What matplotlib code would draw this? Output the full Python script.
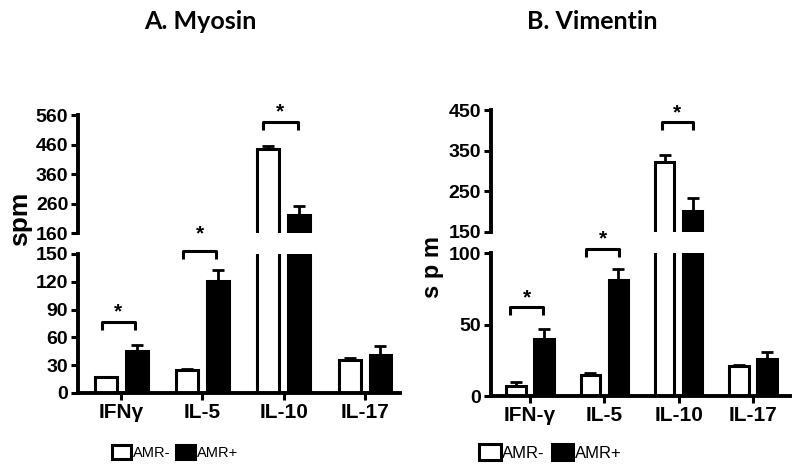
import numpy as np
import matplotlib
matplotlib.use("Agg")
import matplotlib.pyplot as plt
from matplotlib import font_manager

# --- data (spm) ---
cytokines_a = ["IFNγ", "IL-5", "IL-10", "IL-17"]
myo_neg = [17, 25, 445, 36]
myo_neg_err = [0, 1, 10, 2]
myo_pos = [45, 121, 222, 41]
myo_pos_err = [7, 12, 28, 10]

cytokines_b = ["IFN-γ", "IL-5", "IL-10", "IL-17"]
vim_neg = [7, 15, 322, 21]
vim_neg_err = [3, 1, 16, 1]
vim_pos = [40, 81, 202, 26]
vim_pos_err = [7, 8, 30, 5]

# font choices
names = {f.name for f in font_manager.fontManager.ttflist}
narrow = "Liberation Sans Narrow" if "Liberation Sans Narrow" in names else "Liberation Sans"
plt.rcParams["font.family"] = ["Liberation Sans", "DejaVu Sans"]

fig = plt.figure(figsize=(8, 4.76), dpi=100)

LW = 2.8


def style_axis(ax, bottom):
    ax.patch.set_visible(False)
    for s in ["top", "right"]:
        ax.spines[s].set_visible(False)
    ax.spines["left"].set_linewidth(LW)
    if bottom:
        ax.spines["bottom"].set_linewidth(LW)
    else:
        ax.spines["bottom"].set_visible(False)
        ax.tick_params(axis="x", bottom=False, labelbottom=False)
    ax.tick_params(axis="both", direction="out", length=5, width=2.2, pad=2)
    for lab in ax.get_yticklabels():
        lab.set_fontfamily(narrow)
        lab.set_fontweight("bold")
        lab.set_fontsize(14)


def bracket(ax, xc, y, leg, star_y, lo=-0.24, hi=0.17):
    ax.plot([xc + lo, xc + lo, xc + hi, xc + hi], [y - leg, y, y, y - leg],
            color="black", lw=2.2, clip_on=False, solid_capstyle="butt")
    ax.text(xc + (lo + hi) / 2, star_y, "*", ha="center", va="center",
            fontsize=15, fontweight="bold", clip_on=False)


def panel(rect_low, rect_up, cats, neg, neg_err, pos, pos_err, low_lim, up_lim,
          low_ticks, up_ticks, xlim, width):
    ax_lo = fig.add_axes(rect_low)
    ax_up = fig.add_axes(rect_up)
    x = np.arange(len(cats))
    off = 0.19
    handles = None
    for ax in (ax_lo, ax_up):
        b1 = ax.bar(x - off, neg, width, color="white", edgecolor="black", linewidth=2.2,
                    yerr=[np.zeros(len(neg)), neg_err], capsize=4,
                    error_kw=dict(elinewidth=2, capthick=2, ecolor="black"))
        b2 = ax.bar(x + off, pos, width, color="black", edgecolor="black", linewidth=2.2,
                    yerr=[np.zeros(len(pos)), pos_err], capsize=4,
                    error_kw=dict(elinewidth=2, capthick=2, ecolor="black"))
        ax.set_xlim(*xlim)
        if handles is None:
            handles = (b1, b2)
    ax_lo.set_ylim(*low_lim)
    ax_up.set_ylim(*up_lim)
    ax_lo.set_yticks(low_ticks)
    ax_up.set_yticks(up_ticks)
    ax_lo.set_xticks(x)
    ax_lo.set_xticklabels(cats, fontfamily=narrow, fontweight="bold", fontsize=15)
    ax_up.set_xticks([])
    style_axis(ax_lo, True)
    style_axis(ax_up, False)
    return ax_lo, ax_up, handles


# ---- Panel A: Myosin ----
a_lo, a_up, h_a = panel([0.0975, 0.1744, 0.4025, 0.292], [0.0975, 0.5105, 0.4025, 0.2479],
                        cytokines_a, myo_neg, myo_neg_err, myo_pos, myo_pos_err,
                        (0, 150), (160, 560), [0, 30, 60, 90, 120, 150],
                        [160, 260, 360, 460, 560], (-0.53, 3.43), 0.27)
bracket(a_lo, 0, 76.6, 8.6, 88)
bracket(a_lo, 1, 153, 8.6, 172)
bracket(a_up, 2, 535, 27, 570, lo=-0.26)
fig.text(0.25, 0.955, "A. Myosin", ha="center", va="center", fontsize=18, fontweight="bold",
         family=["Lato", "DejaVu Sans"])
fig.text(0.025, 0.54, "spm", ha="center", va="center", rotation=90, fontsize=19,
         fontweight="bold")

# ---- Panel B: Vimentin ----
b_lo, b_up, h_b = panel([0.6137, 0.168, 0.374, 0.2998], [0.6137, 0.5132, 0.374, 0.2557],
                        cytokines_b, vim_neg, vim_neg_err, vim_pos, vim_pos_err,
                        (0, 100), (150, 450), [0, 50, 100], [150, 250, 350, 450],
                        (-0.525, 3.5), 0.26)
bracket(b_lo, 0, 62.6, 5.6, 69, lo=-0.27, hi=0.18)
bracket(b_lo, 1, 102.8, 5.6, 110, lo=-0.24, hi=0.2)
bracket(b_up, 2, 420, 20, 443, lo=-0.23, hi=0.19)
fig.text(0.74, 0.955, "B. Vimentin", ha="center", va="center", fontsize=18, fontweight="bold",
         family=["Lato", "DejaVu Sans"])
fig.text(0.54, 0.44, "s p m", ha="center", va="center", rotation=90, fontsize=17,
         fontweight="bold")

# legends
for h, xc, fs in [(h_a, 0.219, 10.5), (h_b, 0.688, 12)]:
    fig.legend(h, ["AMR-", "AMR+"], loc="center", bbox_to_anchor=(xc, 0.05), ncol=2,
               frameon=False, handlelength=1.3, handleheight=1.1, handletextpad=0.1,
               columnspacing=0.4, prop={"family": narrow, "size": fs})

fig.savefig("out.png", dpi=100)
